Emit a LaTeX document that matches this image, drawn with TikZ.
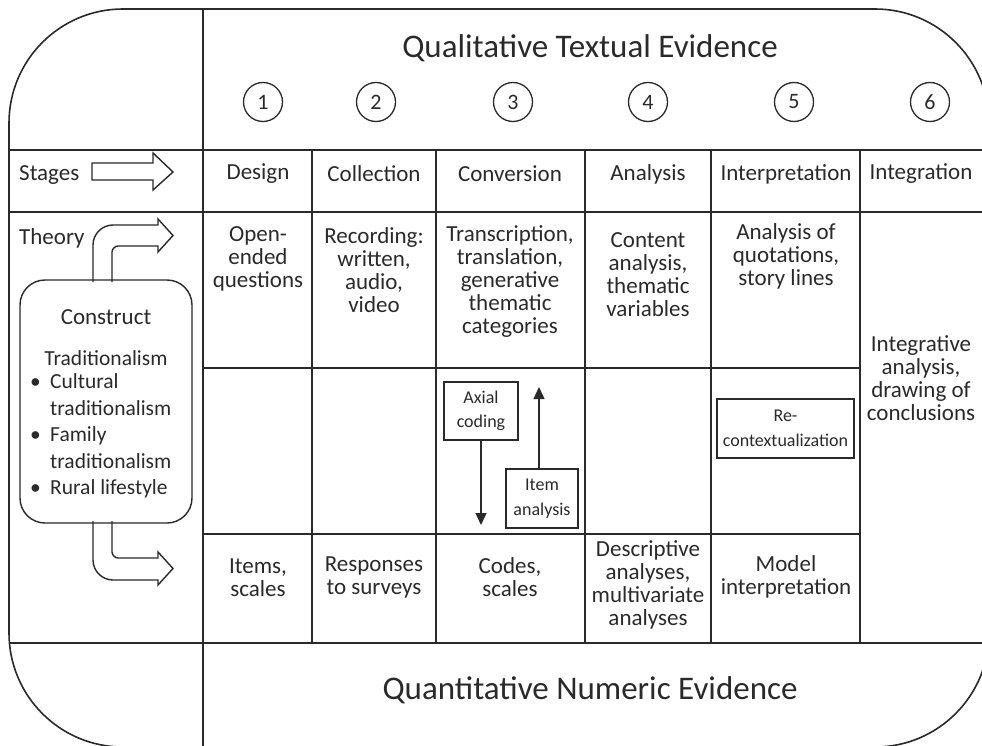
\documentclass[tikz,border=0pt]{standalone}
\usepackage{fontspec}
\setmainfont{Carlito}
\usetikzlibrary{arrows.meta}
\definecolor{ink}{HTML}{2A2A2A}
\begin{document}
\begin{tikzpicture}[x=1pt,y=-1pt,
  grid/.style={line width=1.6pt, draw=ink},
  txt/.style={font=\fontsize{23}{23}\selectfont, text=ink, align=center, inner sep=0pt},
  listtxt/.style={font=\fontsize{21.5}{26.5}\selectfont, text=ink, align=left, inner sep=0pt},
  small/.style={font=\fontsize{18}{24.5}\selectfont, text=ink, align=center, inner sep=0pt},
  titletxt/.style={font=\fontsize{33}{36}\selectfont, text=ink, inner sep=0pt},
  num/.style={circle, draw=ink, line width=1.3pt, minimum size=39pt, inner sep=0pt, font=\fontsize{22}{23}\selectfont, text=ink},
  smallbox/.style={draw=ink, line width=1.4pt, inner sep=0pt},
  bigarrow/.style={draw=ink, line width=1.4pt, fill=white, line join=miter},
  thinarrow/.style={draw=ink, line width=1.4pt, -{Triangle[length=12pt,width=11pt]}},
  ]
\useasboundingbox (0,0) rectangle (982,746);
\clip (0,0) rectangle (982,746);
% outer rounded frame
\draw[grid, rounded corners=114pt] (9,9) rectangle (989,747);
% grid lines
\draw[grid] (9,150) -- (982,150);
\draw[grid] (9,212) -- (982,212);
\draw[grid] (203,368) -- (860,368);
\draw[grid] (203,534) -- (860,534);
\draw[grid] (9,643) -- (982,643);
\draw[grid] (203,9) -- (203,746);
\foreach \x in {312,436,585,711,860} \draw[grid] (\x,150) -- (\x,643);
% titles
\node[titletxt] (qual) at (590,48) {Qualitative Textual Evidence};
\node[titletxt] (quant) at (590,690) {Quantitative Numeric Evidence};
% numbers
\node[num] (n1) at (263,102) {1};
\node[num] (n2) at (376,102) {2};
\node[num] (n3) at (513,102) {3};
\node[num] (n4) at (648,102) {4};
\node[num] (n5) at (794,102) {5};
\node[num] (n6) at (930,102) {6};
% stages row
\node[txt, anchor=west] (stages) at (19,175) {Stages};
\node[txt] (s1) at (258,174) {Design};
\node[txt] (s2) at (374,174) {Collection};
\node[txt] (s3) at (510,174) {Conversion};
\node[txt] (s4) at (648,174) {Analysis};
\node[txt] (s5) at (786,174) {Interpretation};
\node[txt] (s6) at (921,174) {Integration};
\draw[bigarrow] (92,163) -- (153,163) -- (153,153) -- (173,172) -- (153,190) -- (153,180) -- (92,180) -- cycle;
% theory row
\node[txt, anchor=west] (theory) at (19,238) {Theory};
\node[txt] (t1) at (258,258.5) {Open-\\ended\\questions};
\node[txt] (t2) at (374,270) {Recording:\\written,\\audio,\\video};
\node[txt] (t3) at (510,282) {Transcription,\\translation,\\generative\\thematic\\categories};
\node[txt] (t4) at (648,274.5) {Content\\analysis,\\thematic\\variables};
\node[txt] (t5) at (786,256) {Analysis of\\quotations,\\story lines};
\node[txt] (t6) at (921,378.5) {Integrative\\analysis,\\drawing of\\conclusions};
% middle row
\node[smallbox, small, minimum width=74pt, minimum height=58pt] (axial) at (481,411) {Axial\\coding};
\node[smallbox, small, minimum width=72pt, minimum height=59pt] (item) at (542,498.5) {Item\\analysis};
\node[smallbox, small, minimum width=137pt, minimum height=59pt] (recon) at (785.5,428.5) {Re-\\contextualization};
\coordinate (axtip) at (481,525);
\coordinate (ittip) at (539,387);
\draw[thinarrow] (axial.south) -- (axtip);
\draw[thinarrow] (item.north -| ittip) -- (ittip);
% bottom row
\node[txt] (b1) at (258,577.5) {Items,\\scales};
\node[txt] (b2) at (374,577.5) {Responses\\to surveys};
\node[txt] (b3) at (510,577.5) {Codes,\\scales};
\node[txt] (b4) at (648,584.5) {Descriptive\\analyses,\\multivariate\\analyses};
\node[txt] (b5) at (786,577) {Model\\interpretation};
% construct box and arrows
\draw[bigarrow] (93,282) -- (93,245) .. controls (93,234) and (102,225) .. (113,225) -- (158,225) -- (158,219) -- (173,235.5) -- (158,252) -- (158,246) -- (118,246) .. controls (115,246) and (112,249) .. (112,252) -- (112,282);
\draw[bigarrow] (93,521) -- (93,560) .. controls (93,571) and (102,580) .. (113,580) -- (158,580) -- (158,585) -- (173,568.5) -- (158,552) -- (158,558) -- (118,558) .. controls (115,558) and (112,555) .. (112,552) -- (112,521);
\node[draw=ink, line width=1.4pt, rounded corners=25pt, minimum width=172pt, minimum height=243pt] (construct) at (106,401.5) {};
\node[txt, font=\fontsize{23}{23}\selectfont] (cons) at (106,317) {Construct};
\node[listtxt] (trad) at (106,358) {Traditionalism};
\node[listtxt, anchor=west] (list) at (30,436) {\makebox[20pt][l]{\textbullet}Cultural\\\hspace*{20pt}traditionalism\\\makebox[20pt][l]{\textbullet}Family\\\hspace*{20pt}traditionalism\\\makebox[20pt][l]{\textbullet}Rural lifestyle};
\end{tikzpicture}
\end{document}
